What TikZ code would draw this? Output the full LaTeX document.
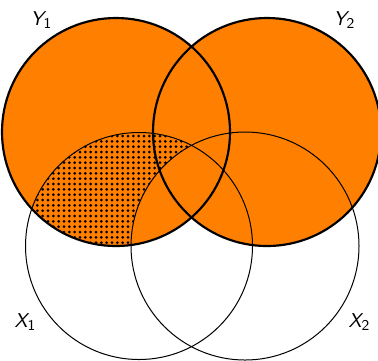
\documentclass[tikz,border=0pt]{standalone}
\usetikzlibrary{patterns.meta}
\definecolor{vorange}{HTML}{FF8000}
\newcommand{\vlbl}[2]{{\sffamily\large\slshape #1}\raisebox{-0.5ex}{\sffamily\small #2}}
\tikzset{
  ycirc/.style={draw=black, line width=1.3pt},
  xcirc/.style={draw=black, line width=0.6pt},
  setlabel/.style={inner sep=0pt, font=\sffamily}
}
\begin{document}
\begin{tikzpicture}[x=0.6pt, y=-0.6pt]
\useasboundingbox (0,0) rectangle (378,360);
% orange union
\fill[vorange] (116,132) circle (114);
\fill[vorange] (267,132) circle (114);
% dotted region: Y1 and X1, outside X2
\begin{scope}
  \clip (116,132) circle (114);
  \clip (139,246) circle (113.5);
  \fill[pattern={Dots[distance=3.2pt, radius=0.9pt]}, pattern color=black, even odd rule]
    (-10,-10) rectangle (400,400) (245,246) circle (114);
\end{scope}
% outlines
\draw[xcirc] (139,246) circle (113.5);
\draw[xcirc] (245,246) circle (114);
\draw[ycirc] (116,132) circle (114);
\draw[ycirc] (267,132) circle (114);
% labels
\node[setlabel] (ly1) at (41,20) {\vlbl{Y}{1}};
\node[setlabel] (ly2) at (344,20) {\vlbl{Y}{2}};
\node[setlabel] (lx1) at (25,322) {\vlbl{X}{1}};
\node[setlabel] (lx2) at (359,322) {\vlbl{X}{2}};
\end{tikzpicture}
\end{document}
